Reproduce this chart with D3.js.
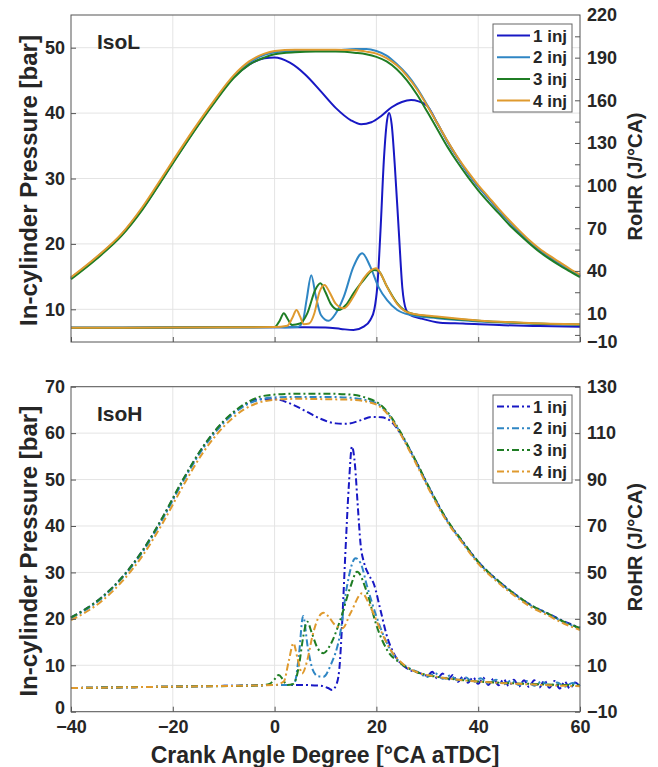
<!DOCTYPE html>
<html>
<head>
  <meta charset="utf-8">
  <title>IsoL / IsoH</title>
  <script src="https://cdnjs.cloudflare.com/ajax/libs/d3/7.8.5/d3.min.js"></script>
<style>
body { margin: 0; background: white; }
svg text { font-family: "Liberation Sans", Arial, sans-serif; font-weight: bold; fill: #262626; }
.tick line { stroke: #555; }
.grid line { stroke: #e4e4e4; stroke-width: 1; }
</style>
</head>
<body>
<svg width="658" height="767"></svg>
<script>
// x axis (crank angle) shared by both panels
var crankTicks = [-40, -20, 0, 20, 40, 60];
var series = ["1 inj", "2 inj", "3 inj", "4 inj"];
var colors = ["#1818c4", "#2f86c4", "#1f7d24", "#df9a2e"];

// IsoL, in-cylinder pressure [bar]
var isoL_p1 = [[-40,14.8],[-35,17.9],[-30,21.5],[-26,25.4],[-22,30.1],[-20,32.5],[-16,37.2],[-12,41.6],[-8,45.5],[-5,47.4],[-2,48.4],[0,48.5],[3,47.7],[6,45.9],[9,43.4],[12,40.8],[15,38.9],[17,38.3],[19,38.6],[21,39.6],[23,40.9],[25,41.7],[26.8,42.0],[28.3,41.8],[30,41.1],[32,38.4],[34,35.6],[36,33.1],[38,30.8],[40,28.8],[42,27.0],[44,25.2],[46,23.5],[48,21.9],[50,20.4],[52,19.1],[54,18.0],[56,17.0],[58,16.0],[60,15.1]];
var isoL_p2 = [[-40,14.7],[-35,17.8],[-30,21.4],[-26,25.3],[-22,30.0],[-20,32.4],[-16,37.1],[-12,41.6],[-8,45.6],[-5,47.7],[-2,48.9],[0,49.3],[4,49.5],[8,49.5],[12,49.6],[16,49.8],[18,49.8],[20,49.5],[22,48.8],[24,47.5],[26,45.9],[28,43.8],[30,41.2],[32,38.4],[34,35.6],[36,33.1],[38,30.8],[40,28.8],[42,27.0],[44,25.2],[46,23.5],[48,21.9],[50,20.4],[52,19.1],[54,18.0],[56,17.0],[58,16.0],[60,15.1]];
var isoL_p3 = [[-40,14.6],[-35,17.7],[-30,21.3],[-26,25.2],[-22,29.9],[-20,32.3],[-16,37.0],[-12,41.4],[-8,45.4],[-5,47.4],[-2,48.5],[0,49.0],[4,49.3],[8,49.4],[12,49.4],[16,49.2],[18,49.0],[20,48.6],[22,47.9],[24,46.7],[26,45.0],[28,42.8],[30,40.2],[32,37.5],[34,34.8],[36,32.4],[38,30.2],[40,28.2],[42,26.4],[44,24.7],[46,23.0],[48,21.5],[50,20.1],[52,18.8],[54,17.7],[56,16.7],[58,15.8],[60,14.9]];
var isoL_p4 = [[-40,14.9],[-35,18.0],[-30,21.6],[-26,25.6],[-22,30.3],[-20,32.7],[-16,37.4],[-12,41.8],[-8,45.8],[-5,47.9],[-2,49.1],[0,49.5],[4,49.7],[8,49.7],[12,49.7],[16,49.6],[18,49.4],[20,49.1],[22,48.4],[24,47.3],[26,45.7],[28,43.6],[30,41.1],[32,38.4],[34,35.7],[36,33.2],[38,31.0],[40,29.0],[42,27.2],[44,25.4],[46,23.7],[48,22.1],[50,20.6],[52,19.3],[54,18.2],[56,17.2],[58,16.2],[60,15.3]];

// IsoL, RoHR [J/CA]
var isoL_r1 = [[-40,0],[-20,0.2],[0,0.4],[6,0.4],[10,0.2],[13,-0.8],[15.5,-1.6],[17.5,0.8],[18.8,5.5],[19.6,13],[20.2,30],[20.8,68],[21.5,120],[22.1,146],[22.5,151],[23,143],[23.6,115],[24.4,68],[25.1,28],[25.8,13],[26.6,9],[28.6,6.7],[32.5,3.6],[37,3.0],[45,1.8],[52,1.2],[60,0.8]];
var isoL_r2 = [[-40,0],[-20,0.2],[0,0.4],[2,0.2],[4.5,0.5],[5.5,4],[6.3,20],[7.2,37],[8.1,22],[9.1,9],[10.6,4.9],[12,10],[13.6,21.9],[15.5,43],[17.2,52.4],[18.8,43],[20.4,28.8],[22.1,19.5],[24.1,12.5],[26.7,9.0],[31.9,6.7],[40,4.5],[50,3.0],[60,2.2]];
var isoL_r3 = [[-40,0],[-20,0.2],[0,0.5],[1,5],[1.8,10.2],[2.6,6],[3.4,2],[5,3],[6.4,10],[8,26.8],[9,31.3],[10,25],[11,17],[12.6,12.5],[14,16],[15.5,24.2],[17.5,33.6],[19.5,40.6],[20.3,40.3],[22.1,28.8],[24.1,17.2],[26.7,10.2],[31.9,7.4],[40,5.0],[50,3.2],[60,2.3]];
var isoL_r4 = [[-40,0],[-20,0.2],[0,0.5],[2.5,1.5],[3.5,7],[4.3,12.5],[5,8],[5.7,2.5],[6.8,3],[7.8,10],[8.8,25],[9.8,30.1],[10.8,25],[12,17],[13.6,13.7],[15.5,22],[17.5,34.8],[19.9,41.8],[21,37],[22.1,28.8],[24.1,16.7],[26.7,10.2],[31.9,7.9],[40,5.2],[50,3.4],[60,2.5]];

// IsoH, in-cylinder pressure [bar]
var isoH_p1 = [[-40,20.3],[-34,24.6],[-30,28.9],[-26,34.6],[-22,41.8],[-18,49.9],[-14,57.1],[-10,62.5],[-6,66.0],[-3,67.3],[0,67.3],[3,66.4],[6,64.8],[9,63.1],[12,62.1],[14,62.0],[17,62.8],[19,63.5],[21,63.4],[23,62.4],[24.5,60.3],[27.3,54.9],[30.6,47.7],[33.9,41.2],[37.2,36.2],[40,32.3],[43.7,28.4],[47,25.5],[50.3,23.0],[53.6,21.2],[56.8,19.5],[60,18.1]];
var isoH_p2 = [[-40,20.1],[-34,24.4],[-30,28.7],[-26,34.3],[-22,41.5],[-18,49.6],[-14,56.8],[-10,62.2],[-6,65.8],[-3,67.2],[0,67.7],[5,67.8],[10,67.8],[15,67.6],[18,67.1],[20.8,65.9],[22.5,63.9],[24.1,61.2],[27.3,54.8],[30.6,47.6],[33.9,41.1],[37.2,36.1],[40,32.2],[43.7,28.3],[47,25.4],[50.3,22.9],[53.6,21.1],[56.8,19.3],[60,17.9]];
var isoH_p3 = [[-40,20.3],[-34,24.6],[-30,28.9],[-26,34.6],[-22,41.9],[-18,50.0],[-14,57.2],[-10,62.6],[-6,66.2],[-3,67.8],[0,68.3],[5,68.5],[10,68.5],[15,68.3],[18,67.6],[20.8,66.1],[22.5,64.1],[24.1,61.4],[27.3,55.0],[30.6,47.8],[33.9,41.3],[37.2,36.3],[40,32.3],[43.7,28.4],[47,25.5],[50.3,23.0],[53.6,21.2],[56.8,19.4],[60,18.0]];
var isoH_p4 = [[-40,19.7],[-34,23.8],[-30,28.0],[-26,33.5],[-22,40.6],[-18,48.6],[-14,55.9],[-10,61.4],[-6,65.1],[-3,66.6],[0,67.2],[5,67.4],[10,67.3],[15,67.2],[18,66.8],[20.8,65.6],[22.5,63.7],[24.1,61.0],[27.3,54.5],[30.6,47.3],[33.9,40.9],[37.2,35.9],[40,31.9],[43.7,28.0],[47,25.1],[50.3,22.6],[53.6,20.8],[56.8,19.0],[60,17.6]];

// IsoH, RoHR [J/CA]
var isoH_r1 = [[-40,0.2],[-20,0.8],[-5,1.3],[0,1.5],[5,1.5],[9,1.2],[10.5,0.2],[11.3,-0.6],[12.1,1.5],[12.7,8],[13.3,29.5],[13.9,58.2],[14.6,88],[15.2,104.2],[15.8,96],[16.3,80],[16.9,62],[17.6,54],[18.5,49],[19.5,45],[20.8,33.8],[22.1,22.3],[23.4,15.2],[26,8.7],[28.7,6.5],[30,5.5],[31,7.2],[32,4.2],[33,6.5],[34,3.5],[35,5.8],[36,2.8],[37,5.2],[38,2.5],[39,4.8],[40,2.0],[41,4.6],[42,1.5],[43,4.2],[44,1.4],[45,4.0],[46,1.0],[47,3.8],[48,0.8],[49,3.6],[50,0.6],[51,3.6],[52,0.4],[53,3.4],[54,0.3],[55,3.2],[56,0.0],[57,3.0],[58,0.0],[59,2.6],[60,0.8]];
var isoH_r2 = [[-40,0.2],[-20,0.8],[-5,1.3],[0,1.5],[3,1.5],[4,3],[4.8,15],[5.6,31.2],[6.5,18],[7.5,8],[8.5,5.3],[9.6,5.1],[11,10],[12.9,23.8],[14.2,43.8],[15.9,56.1],[16.9,54],[18.2,43.8],[19.8,32.4],[21.5,22.3],[23.4,14.4],[26,9.3],[28,7.2],[30,5.0],[31.5,6.6],[33,4.2],[34.5,5.6],[36,3.4],[37.5,4.8],[39,2.8],[40.5,4.4],[42,2.2],[43.5,3.8],[45,1.8],[46.5,3.4],[48,1.5],[49.5,3.2],[51,1.2],[52.5,3.0],[54,1.0],[55.5,2.6],[57,0.8],[58.5,2.4],[60,1.0]];
var isoH_r3 = [[-40,0.2],[-20,0.8],[-3,1.3],[-1,2],[0,4],[0.8,5.8],[1.6,4],[2.4,1.5],[3.7,2],[4.8,10],[5.6,22],[6.4,28.8],[7.3,24],[8.3,18],[9.6,15.2],[11,19],[12.9,29.5],[14.9,43.8],[16.2,50.3],[18.2,41],[20.1,26.6],[22.1,16.6],[24.7,10.9],[28,7.0],[32,5.0],[36,3.8],[40,3.0],[45,2.4],[50,2.0],[55,1.6],[60,1.4]];
var isoH_r4 = [[-40,0.2],[-20,0.8],[0,1.5],[1.8,3],[2.8,12],[3.7,19.5],[4.5,13],[5.4,6.5],[6.4,12],[7.4,22.3],[8.5,30],[9.6,32.6],[10.6,31],[11.6,28],[13.3,25.9],[14.9,32.4],[17.2,41],[18.8,35.2],[20.8,25.2],[22.8,16.6],[25.4,10.2],[28,7.0],[32,5.0],[36,3.8],[40,3.0],[45,2.3],[50,1.8],[55,1.3],[60,1.0]];

// tick labels
var isoL_pTicks = [10, 20, 30, 40, 50];
var isoL_rTicks = [220, 190, 160, 130, 100, 70, 40, 10, -10];
var isoL_rMinor = [-5, 10, 25, 40, 55, 70, 85, 100, 115, 130, 145, 160, 175, 190, 205];
var isoH_pTicks = [0, 10, 20, 30, 40, 50, 60, 70];
var isoH_rTicks = [130, 110, 90, 70, 50, 30, 10, -10];

var svg = d3.select("svg");
svg.append("rect").attr("width", 658).attr("height", 767).attr("fill", "white");

var x = d3.scaleLinear().domain([-40, 60]).range([71, 580]);

function panel(opt) {
  var g = svg.append("g");
  var yP = d3.scaleLinear().domain(opt.pDomain).range([opt.bottom, opt.top]);
  var yR = d3.scaleLinear().domain(opt.rDomain).range([opt.bottom, opt.top]);

  //grid
  var grid = g.append("g").attr("class", "grid");
  grid.selectAll(".gx").data([-20, 0, 20, 40]).enter().append("line")
    .attr("x1", function(d) { return x(d); }).attr("x2", function(d) { return x(d); })
    .attr("y1", opt.top).attr("y2", opt.bottom);
  grid.selectAll(".gy").data(opt.pTicks).enter().append("line")
    .attr("x1", x(-40)).attr("x2", x(60))
    .attr("y1", function(d) { return yP(d); }).attr("y2", function(d) { return yP(d); });

  //lines, pressure then RoHR
  var line = function(ys) {
    return d3.line().x(function(d) { return x(d[0]); }).y(function(d) { return ys(d[1]); })
      .curve(d3.curveMonotoneX);
  };
  opt.pData.forEach(function(s, i) {
    g.append("path").attr("d", line(yP)(s))
      .attr("fill", "none").attr("stroke", colors[i]).attr("stroke-width", 2)
      .attr("stroke-dasharray", opt.dash);
  });
  opt.rData.forEach(function(s, i) {
    g.append("path").attr("d", line(yR)(s))
      .attr("fill", "none").attr("stroke", colors[i]).attr("stroke-width", 2)
      .attr("stroke-dasharray", opt.dash);
  });

  //axes
  var xAxis = d3.axisBottom(x).tickValues(crankTicks).tickSize(-5).tickPadding(9)
    .tickFormat(opt.xLabels ? d3.format("d") : "");
  g.append("g").attr("transform", "translate(0," + opt.bottom + ")").call(xAxis);

  var left = g.append("g").attr("transform", "translate(71,0)")
    .call(d3.axisLeft(yP).tickValues(opt.pTicks).tickSize(-5).tickPadding(6));
  // lift the lowest label a little so it clears the x labels
  left.selectAll(".tick text").filter(function(d) { return d === 0; }).attr("y", -4);
  g.append("g").attr("transform", "translate(580,0)")
    .call(d3.axisRight(yR).tickValues(opt.rMinor).tickSize(-5).tickFormat(""));
  g.append("g").attr("transform", "translate(580,0)")
    .call(d3.axisRight(yR).tickValues(opt.rTicks).tickSize(0).tickPadding(7));

  g.selectAll(".domain").remove();
  g.selectAll(".tick text").style("font-size", "18px");

  //frame
  g.append("rect").attr("x", 71).attr("y", opt.top)
    .attr("width", 509).attr("height", opt.bottom - opt.top)
    .attr("fill", "none").attr("stroke", "#555").attr("stroke-width", 1);

  //titles
  g.append("text").attr("x", 97).attr("y", opt.top + 34)
    .style("font-size", "21px").text(opt.name);
  g.append("text")
    .attr("transform", "translate(37," + ((opt.top + opt.bottom) / 2 + 2) + ") rotate(-90)")
    .attr("text-anchor", "middle").style("font-size", "24px")
    .text("In-cylinder Pressure [bar]");
  g.append("text")
    .attr("transform", "translate(642," + ((opt.top + opt.bottom) / 2 - 2) + ") rotate(-90)")
    .attr("text-anchor", "middle").style("font-size", "20px")
    .text("RoHR (J/°CA)");

  //legend
  var lg = g.append("g").attr("transform", "translate(493," + opt.legendTop + ")");
  lg.append("rect").attr("width", 79).attr("height", 88)
    .attr("fill", "white").attr("stroke", "#666").attr("stroke-width", 1);
  series.forEach(function(s, i) {
    var yy = 11.5 + i * 21.7;
    lg.append("line").attr("x1", 4).attr("x2", 37).attr("y1", yy).attr("y2", yy)
      .attr("stroke", colors[i]).attr("stroke-width", 2).attr("stroke-dasharray", opt.dash);
    lg.append("text").attr("x", 40).attr("y", yy + 6).style("font-size", "17px").text(s);
  });
}

panel({
  name: "IsoL", top: 15, bottom: 342, pDomain: [5, 55], rDomain: [-10, 220],
  pTicks: isoL_pTicks, rTicks: isoL_rTicks, rMinor: isoL_rMinor,
  pData: [isoL_p1, isoL_p2, isoL_p3, isoL_p4], rData: [isoL_r1, isoL_r2, isoL_r3, isoL_r4],
  dash: null, xLabels: false, legendTop: 24
});

panel({
  name: "IsoH", top: 386.7, bottom: 711.7, pDomain: [0, 70], rDomain: [-10, 130],
  pTicks: isoH_pTicks, rTicks: isoH_rTicks, rMinor: isoH_rTicks,
  pData: [isoH_p1, isoH_p2, isoH_p3, isoH_p4], rData: [isoH_r1, isoH_r2, isoH_r3, isoH_r4],
  dash: "7,3,2,3", xLabels: true, legendTop: 395
});

// x axis title
svg.append("text")
  .attr("x", 325).attr("y", 763)
  .attr("text-anchor", "middle")
  .style("font-size", "23px")
  .text("Crank Angle Degree [°CA aTDC]");
</script>
</body>
</html>
